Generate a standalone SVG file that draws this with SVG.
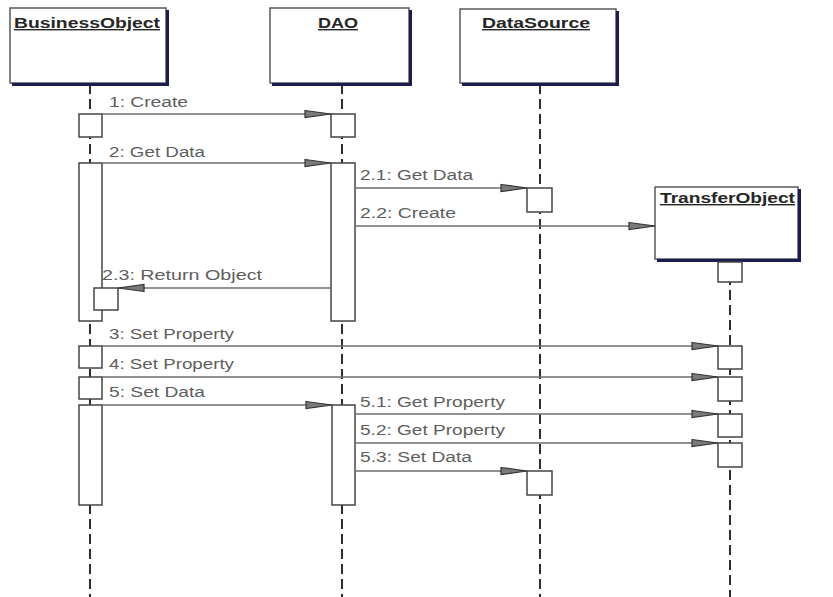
<svg xmlns="http://www.w3.org/2000/svg" width="833" height="597" viewBox="0 0 833 597">
  <style>
    .obj { fill: #ffffff; stroke: #5a5a5a; stroke-width: 1.5; }
    .shadow { fill: none; stroke: #1c1c50; stroke-width: 3; }
    .head { font-family: "Liberation Sans", Arial, sans-serif; font-size: 14px; font-weight: bold; fill: #262626; text-decoration: underline; }
    .life { stroke: #2e2e2e; stroke-width: 2; stroke-dasharray: 10 5; fill: none; }
    .act { fill: #ffffff; stroke: #444444; stroke-width: 1.5; }
    .msg { stroke: #6e6e6e; stroke-width: 1.5; fill: none; marker-end: url(#head); }
    .lbl { font-family: "Liberation Sans", Arial, sans-serif; font-size: 14px; fill: #5e5e5e; }
  </style>
  <defs>
    <!-- narrow filled triangle used on every message -->
    <marker id="head" markerUnits="userSpaceOnUse" markerWidth="30" markerHeight="12" refX="27" refY="6" orient="auto">
      <path d="M1,2.5 L27,6 L1,9.5 z" fill="#7a7a7a" stroke="#333333" stroke-width="1.2"/>
    </marker>
  </defs>

  <rect width="833" height="597" fill="#ffffff"/>

  <!-- lifelines -->
  <g id="lifelines">
    <line class="life" x1="90" y1="84" x2="90" y2="597"/>
    <line class="life" x1="342" y1="84" x2="342" y2="597"/>
    <line class="life" x1="540" y1="84" x2="540" y2="597"/>
    <line class="life" x1="730" y1="260" x2="730" y2="597"/>
  </g>

  <!-- objects -->
  <g id="businessObject">
    <rect class="obj" x="10" y="8" width="156" height="75"/>
    <path class="shadow" d="M167.5,10 V84.5 H12"/>
    <text class="head" x="14" y="28" textLength="146" lengthAdjust="spacingAndGlyphs">BusinessObject</text>
    <rect class="act" x="79" y="114" width="23" height="23"/>
    <rect class="act" x="79" y="163" width="23" height="158"/>
    <rect class="act" x="94" y="288" width="24" height="22"/>
    <rect class="act" x="79" y="346" width="23" height="22"/>
    <rect class="act" x="79" y="377" width="23" height="22"/>
    <rect class="act" x="79" y="405" width="23" height="100"/>
  </g>

  <g id="dao">
    <rect class="obj" x="270" y="8" width="139" height="75"/>
    <path class="shadow" d="M410.5,10 V84.5 H272"/>
    <text class="head" x="318" y="28" textLength="40" lengthAdjust="spacingAndGlyphs">DAO</text>
    <rect class="act" x="331" y="114" width="24" height="23"/>
    <rect class="act" x="331" y="163" width="24" height="158"/>
    <rect class="act" x="332" y="405" width="23" height="100"/>
  </g>

  <g id="dataSource">
    <rect class="obj" x="460" y="9" width="156" height="74"/>
    <path class="shadow" d="M617.5,11 V84.5 H462"/>
    <text class="head" x="482" y="28" textLength="108" lengthAdjust="spacingAndGlyphs">DataSource</text>
    <rect class="act" x="527" y="188" width="25" height="24"/>
    <rect class="act" x="527" y="471" width="25" height="24"/>
  </g>

  <g id="transferObject">
    <rect class="obj" x="655" y="187" width="143" height="72"/>
    <path class="shadow" d="M799.5,189 V260.5 H657"/>
    <text class="head" x="660" y="203" textLength="135" lengthAdjust="spacingAndGlyphs">TransferObject</text>
    <rect class="act" x="718" y="262" width="24" height="20"/>
    <rect class="act" x="718" y="346" width="24" height="23"/>
    <rect class="act" x="718" y="377" width="24" height="24"/>
    <rect class="act" x="718" y="414" width="24" height="23"/>
    <rect class="act" x="718" y="443" width="24" height="24"/>
  </g>

  <!-- messages -->
  <g id="messages">
    <line class="msg" x1="102" y1="114" x2="331" y2="114"/>
    <text class="lbl" x="109" y="107" textLength="79" lengthAdjust="spacingAndGlyphs">1: Create</text>

    <line class="msg" x1="102" y1="163" x2="331" y2="163"/>
    <text class="lbl" x="109" y="157" textLength="96" lengthAdjust="spacingAndGlyphs">2: Get Data</text>

    <line class="msg" x1="355" y1="188" x2="527" y2="188"/>
    <text class="lbl" x="360" y="180" textLength="113" lengthAdjust="spacingAndGlyphs">2.1: Get Data</text>

    <line class="msg" x1="355" y1="226" x2="655" y2="226"/>
    <text class="lbl" x="360" y="218" textLength="96" lengthAdjust="spacingAndGlyphs">2.2: Create</text>

    <line class="msg" x1="331" y1="288" x2="118" y2="288"/>
    <text class="lbl" x="102" y="280" textLength="160" lengthAdjust="spacingAndGlyphs">2.3: Return Object</text>

    <line class="msg" x1="102" y1="346" x2="718" y2="346"/>
    <text class="lbl" x="109" y="339" textLength="125" lengthAdjust="spacingAndGlyphs">3: Set Property</text>

    <line class="msg" x1="102" y1="377" x2="718" y2="377"/>
    <text class="lbl" x="109" y="369" textLength="125" lengthAdjust="spacingAndGlyphs">4: Set Property</text>

    <line class="msg" x1="102" y1="405" x2="332" y2="405"/>
    <text class="lbl" x="109" y="397" textLength="96" lengthAdjust="spacingAndGlyphs">5: Set Data</text>

    <line class="msg" x1="355" y1="414" x2="718" y2="414"/>
    <text class="lbl" x="360" y="407" textLength="145" lengthAdjust="spacingAndGlyphs">5.1: Get Property</text>

    <line class="msg" x1="355" y1="443" x2="718" y2="443"/>
    <text class="lbl" x="360" y="435" textLength="145" lengthAdjust="spacingAndGlyphs">5.2: Get Property</text>

    <line class="msg" x1="355" y1="471" x2="527" y2="471"/>
    <text class="lbl" x="360" y="462" textLength="112" lengthAdjust="spacingAndGlyphs">5.3: Set Data</text>
  </g>
</svg>
